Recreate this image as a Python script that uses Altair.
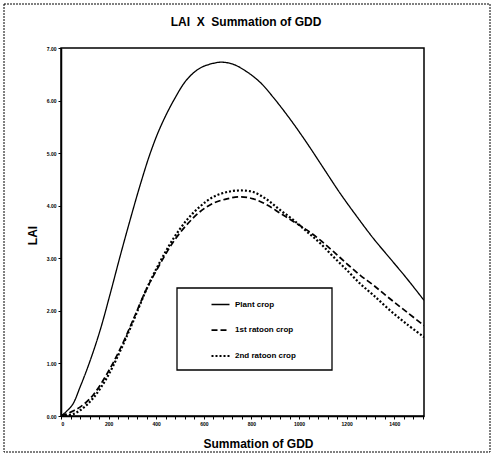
import altair as alt
import pandas as pd

series_names = ["Plant crop", "1st ratoon crop", "2nd ratoon crop"]

plant_x = [0, 46, 81, 123, 165, 207, 249, 291, 333, 375, 417, 473, 529, 585, 641, 676, 724, 780, 836, 892,
           962, 1032, 1102, 1172, 1242, 1312, 1382, 1452, 1525]
plant_y = [0.00, 0.20, 0.56, 1.06, 1.64, 2.33, 3.05, 3.74, 4.40, 5.00, 5.49, 6.00, 6.40, 6.62, 6.71, 6.73,
           6.69, 6.55, 6.35, 6.06, 5.65, 5.20, 4.72, 4.24, 3.80, 3.38, 3.00, 2.62, 2.20]

r1_x = [0, 53, 95, 137, 193, 249, 305, 361, 417, 473, 529, 585, 641, 697, 752, 808, 864, 920, 976, 1032,
        1088, 1144, 1200, 1256, 1312, 1382, 1452, 1525]
r1_y = [0.00, 0.10, 0.22, 0.41, 0.80, 1.28, 1.85, 2.43, 2.90, 3.32, 3.64, 3.89, 4.05, 4.13, 4.17, 4.13,
        4.02, 3.86, 3.70, 3.54, 3.35, 3.13, 2.90, 2.68, 2.49, 2.23, 1.98, 1.72]

r2_x = [0, 53, 95, 137, 193, 249, 305, 361, 417, 473, 529, 585, 641, 697, 752, 808, 864, 920, 976, 1032,
        1088, 1144, 1200, 1256, 1312, 1382, 1452, 1525]
r2_y = [0.00, 0.04, 0.16, 0.35, 0.73, 1.24, 1.82, 2.43, 2.94, 3.38, 3.73, 3.99, 4.17, 4.26, 4.29, 4.26,
        4.12, 3.92, 3.73, 3.51, 3.29, 3.03, 2.78, 2.52, 2.30, 2.01, 1.75, 1.50]

x_ticks = list(range(0, 1521, 40))
y_ticks = [0, 1, 2, 3, 4, 5, 6, 7]
title_text = "LAI\u00a0\u00a0X\u00a0\u00a0Summation of GDD"

rows = []
for name, xs, ys in zip(series_names, [plant_x, r1_x, r2_x], [plant_y, r1_y, r2_y]):
    for xv, yv in zip(xs, ys):
        rows.append({"series": name, "gdd": xv, "lai": yv})
df = pd.DataFrame(rows)

W, H = 363, 368
PL, PT = 61, 48

lines = alt.Chart(df).mark_line(interpolate="catmull-rom", clip=True).encode(
    x=alt.X("gdd:Q", scale=alt.Scale(domain=[0, 1525], nice=False, zero=False),
            axis=alt.Axis(values=x_ticks, format="d",
                          labelExpr="datum.value % 200 === 0 ? datum.label : ''",
                          labelOverlap=False, title="Summation of GDD",
                          titleX=197, titleY=27, titleBaseline="middle")),
    y=alt.Y("lai:Q", scale=alt.Scale(domain=[0, 7], nice=False),
            axis=alt.Axis(values=y_ticks, format=".2f", title="LAI",
                          titleX=-29, titleY=187, titleAngle=270, titleBaseline="middle")),
    strokeDash=alt.StrokeDash("series:N", sort=series_names,
                              scale=alt.Scale(domain=series_names, range=[[1, 0], [6, 3], [2, 2]]),
                              legend=alt.Legend(title=None, orient="none", legendX=149, legendY=246.5,
                                                symbolType="stroke", symbolSize=324, symbolStrokeWidth=1.4,
                                                symbolStrokeColor="black", rowPadding=11.5, padding=0,
                                                labelFontSize=8, labelFontWeight="bold", labelOffset=4,
                                                labelColor="black")),
    strokeWidth=alt.StrokeWidth("series:N", sort=series_names,
                                scale=alt.Scale(domain=series_names, range=[1.3, 2.2, 0.9]),
                                legend=None),
    color=alt.value("black"),
)

frame = alt.Chart(alt.Data(values=[{"a": 1}])).mark_rect(
    fill=None, stroke="black", strokeWidth=1, strokeDash=[2, 1]
).encode(x=alt.value(4 - PL), x2=alt.value(490 - PL), y=alt.value(4 - PT), y2=alt.value(452 - PT))

legend_box = alt.Chart(alt.Data(values=[{"a": 1}])).mark_rect(
    fill="white", stroke="black", strokeWidth=1.3
).encode(x=alt.value(177 - PL), x2=alt.value(332 - PL), y=alt.value(288 - PT), y2=alt.value(370 - PT))

title = alt.Chart(alt.Data(values=[{"t": title_text}])).mark_text(
    fontSize=12, fontWeight="bold", color="black", align="center", baseline="middle"
).encode(text="t:N", x=alt.value(246 - PL), y=alt.value(22 - PT))

chart = alt.layer(frame, legend_box, title, lines).properties(
    width=W, height=H,
    autosize=alt.AutoSizeParams(type="none"),
    padding={"left": PL, "top": PT, "right": 494 - PL - W, "bottom": 456 - PT - H},
).configure(font="Liberation Sans", background="white").configure_view(
    stroke="black", strokeWidth=1.5
).configure_axis(
    grid=False, domainColor="black", domainWidth=1.5, tickColor="black", tickSize=3,
    labelFontSize=5, labelFontWeight="bold", labelColor="black", labelPadding=2,
    titleFontSize=12, titleFontWeight="bold", titleColor="black"
)

chart.save("out.html", embed_options={"renderer": "svg", "actions": False})
